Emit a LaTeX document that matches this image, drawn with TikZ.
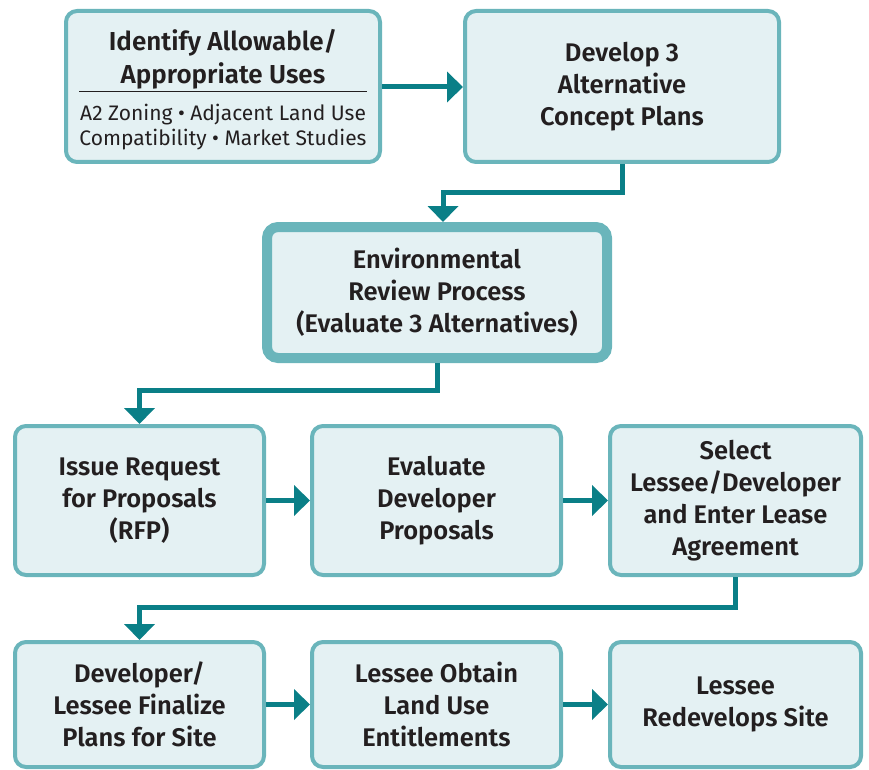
\documentclass[tikz,border=0pt]{standalone}
\usepackage{fontspec}
\setmainfont{Fira Sans}[BoldFont={Fira Sans SemiBold}]
\usetikzlibrary{arrows.meta}
\definecolor{bfill}{HTML}{E4F1F3}
\definecolor{bline}{HTML}{6AB5BB}
\definecolor{teal0}{HTML}{0A7F87}
\definecolor{txt}{HTML}{231F20}
\begin{document}
\begin{tikzpicture}[x=1pt,y=-1pt,
  box/.style={draw=bline, fill=bfill, line width=4pt, rounded corners=11pt, text=txt, align=center,
    font=\fontsize{25.5}{32}\selectfont\bfseries, inner sep=0pt},
  plain/.style={text=txt, align=center, inner sep=0pt},
  arr/.style={draw=teal0, line width=5pt, -{Triangle[width=30pt,length=16pt]}}]
\useasboundingbox (0,0) rectangle (869,770);
% row 1
\node[box, minimum width=314pt, minimum height=151pt] (b1) at (223,86.5) {};
\node[plain, font=\fontsize{26}{33}\selectfont\bfseries] (b1t) at (223,59) {Identify Allowable/\\Appropriate Uses};
\draw[txt, line width=1pt] (79,92) -- (367,92);
\node[plain, font=\fontsize{21}{25}\selectfont] (b1s) at (223,127) {A2 Zoning • Adjacent Land Use\\Compatibility • Market Studies};
\node[box, minimum width=314pt, minimum height=151pt] (b2) at (622,86.5) {Develop 3\\Alternative\\Concept Plans};
% row 2
\node[box, line width=10pt, minimum width=340pt, minimum height=131pt] (env) at (437,292.5) {Environmental\\Review Process\\(Evaluate 3 Alternatives)};
% row 3
\node[box, minimum width=249pt, minimum height=149pt] (r3a) at (139.5,500.5) {Issue Request\\for Proposals\\(RFP)};
\node[box, minimum width=249pt, minimum height=149pt] (r3b) at (436.5,500.5) {Evaluate\\Developer\\Proposals};
\node[box, minimum width=251pt, minimum height=149pt] (r3c) at (735.5,500.5) {Select\\Lessee/Developer\\and Enter Lease\\Agreement};
% row 4
\node[box, minimum width=249pt, minimum height=125pt] (r4a) at (139.5,704.5) {Developer/\\Lessee Finalize\\Plans for Site};
\node[box, minimum width=249pt, minimum height=125pt] (r4b) at (436.5,704.5) {Lessee Obtain\\Land Use\\Entitlements};
\node[box, minimum width=251pt, minimum height=125pt] (r4c) at (735.5,704.5) {Lessee\\Redevelops Site};
% connectors
\draw[arr] (b1.east |- 0,87) -- (b2.west |- 0,87);
\draw[arr] (b2.south) -- ++(0,28) -| ([xshift=6pt]env.north);
\draw[arr] (env.south) -- ++(0,27) -| (r3a.north);
\draw[arr] (r3a.east) -- (r3b.west);
\draw[arr] (r3b.east) -- (r3c.west);
\draw[arr] (r3c.south) -- ++(0,30) -| (r4a.north);
\draw[arr] (r4a.east) -- (r4b.west);
\draw[arr] (r4b.east) -- (r4c.west);
\end{tikzpicture}
\end{document}
